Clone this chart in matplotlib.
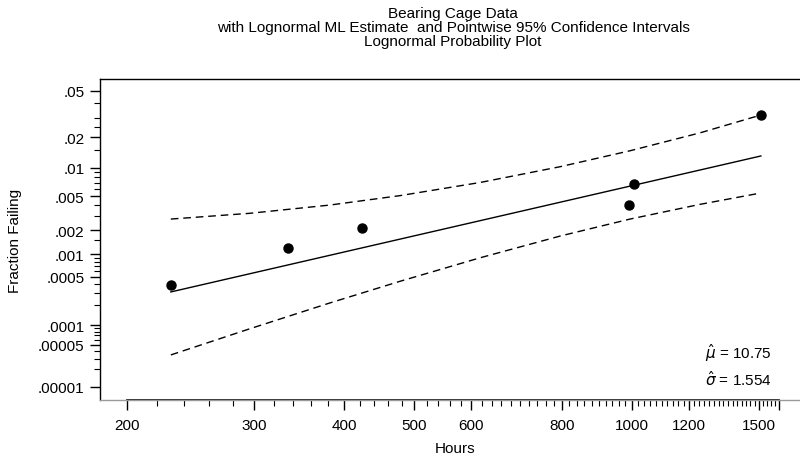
import numpy as np
import matplotlib
matplotlib.use("Agg")
import matplotlib.pyplot as plt
import matplotlib.transforms as mtransforms
from statistics import NormalDist

# failure data (hours, plotting position)
hours = [230, 334, 423, 990, 1009, 1510]
frac_failing = [0.000387, 0.00121, 0.00214, 0.00398, 0.00679, 0.0317]

# lognormal ML fit line (straight on this paper)
fit_hours = [230, 1510]
fit_frac = [0.000309, 0.0132]

# pointwise 95% confidence bands
band_hours = [230, 296, 382, 478, 617, 796, 995, 1243, 1510]
band_upper = [0.00273, 0.00319, 0.00397, 0.00507, 0.00705, 0.0103, 0.01485, 0.0219, 0.0316]
band_lower = [3.43e-5, 8.87e-5, 0.000215, 0.000436, 0.000901, 0.0017, 0.00273, 0.00404, 0.00542]

x_major = [200, 300, 400, 500, 600, 800, 1000, 1200, 1500, 1600]
x_labels = ["200", "300", "400", "500", "600", "800", "1000", "1200", "1500", ""]
x_minor = list(range(220, 1600, 20))

y_major = [0.05, 0.02, 0.01, 0.005, 0.002, 0.001, 0.0005, 0.0001, 0.00005, 0.00001]
y_labels = [".05", ".02", ".01", ".005", ".002", ".001", ".0005", ".0001", ".00005", ".00001"]
y_minor = [0.04, 0.03, 0.025, 0.015, 0.009, 0.008, 0.007, 0.006, 0.004, 0.003, 0.0015,
           0.0009, 0.0008, 0.0007, 0.0006, 0.0004, 0.0003, 0.0002,
           0.00009, 0.00008, 0.00007, 0.00006, 0.00004, 0.00003, 0.00002]

mu_hat = "10.75"
sigma_hat = "1.554"

plt.rcParams['font.family'] = ['Liberation Sans', 'DejaVu Sans']
plt.rcParams['mathtext.fontset'] = 'dejavusans'
FS = 11

_nd = NormalDist()


def to_z(p):
    p = np.asarray(p, dtype=float)
    out = np.full(p.shape, np.nan)
    ok = (p > 0) & (p < 1)
    out[ok] = [_nd.inv_cdf(v) for v in p[ok]]
    return out


def from_z(z):
    z = np.asarray(z, dtype=float)
    return np.vectorize(_nd.cdf, otypes=[float])(z)


fig = plt.figure(figsize=(8, 4.6), dpi=100)
ax = fig.add_axes([100 / 800, 59 / 460, 720 / 800, 321 / 460])

ax.set_xscale('log')
ax.set_yscale('function', functions=(to_z, from_z))
ax.set_xlim(10 ** (np.log10(200) - 27 / 722), 10 ** (np.log10(200) + 693 / 722))
ax.set_ylim(_nd.cdf(-4.38), _nd.cdf(-1.539))

ax.plot(band_hours, band_upper, color='black', lw=1.0, ls=(0, (5.5, 3.5)))
ax.plot(band_hours, band_lower, color='black', lw=1.0, ls=(0, (5.5, 3.5)))
ax.plot(fit_hours, fit_frac, color='black', lw=1.0)
ax.plot(hours, frac_failing, 'o', color='black', ms=6.5, mec='black')

ax.set_xticks(x_major)
ax.set_xticklabels(x_labels)
ax.set_xticks(x_minor, minor=True)
ax.set_yticks(y_major)
ax.set_yticklabels(y_labels)
ax.set_yticks(y_minor, minor=True)
ax.set_yticklabels([], minor=True)
ax.set_xticklabels([], minor=True)

ax.tick_params(axis='both', which='major', length=7, width=1.0, labelsize=FS, color='black')
ax.tick_params(axis='both', which='minor', length=4, width=0.8, color='black')
ax.tick_params(axis='x', which='major', pad=6)
ax.tick_params(axis='y', which='major', pad=4)

for s in ax.spines.values():
    s.set_color('black')
    s.set_linewidth(1.0)
ax.spines['bottom'].set_color('#9a9a9a')
trans = mtransforms.blended_transform_factory(ax.transData, ax.transAxes)
ax.plot([200, 1600], [0, 0], color='black', lw=1.2, transform=trans, clip_on=False)

ax.set_ylabel("Fraction Failing", fontsize=FS)
ax.yaxis.set_label_coords((22 - 100) / 720, 0.5)
fig.text(455 / 800, 1 - 449 / 460, "Hours", ha='center', va='center', fontsize=FS)

fig.text(453 / 800, 1 - 14 / 460, "Bearing Cage Data", ha='center', va='center', fontsize=FS)
fig.text(453 / 800, 1 - 28 / 460,
         "with Lognormal ML Estimate  and Pointwise 95% Confidence Intervals",
         ha='center', va='center', fontsize=FS)
fig.text(453 / 800, 1 - 42 / 460, "Lognormal Probability Plot", ha='center', va='center', fontsize=FS)

fig.text(705 / 800, 1 - 353 / 460, r"$\hat{\mu}$ = " + mu_hat, ha='left', va='center', fontsize=FS)
fig.text(705 / 800, 1 - 380 / 460, r"$\hat{\sigma}$ = " + sigma_hat, ha='left', va='center', fontsize=FS)

fig.savefig("out.png", dpi=100)
